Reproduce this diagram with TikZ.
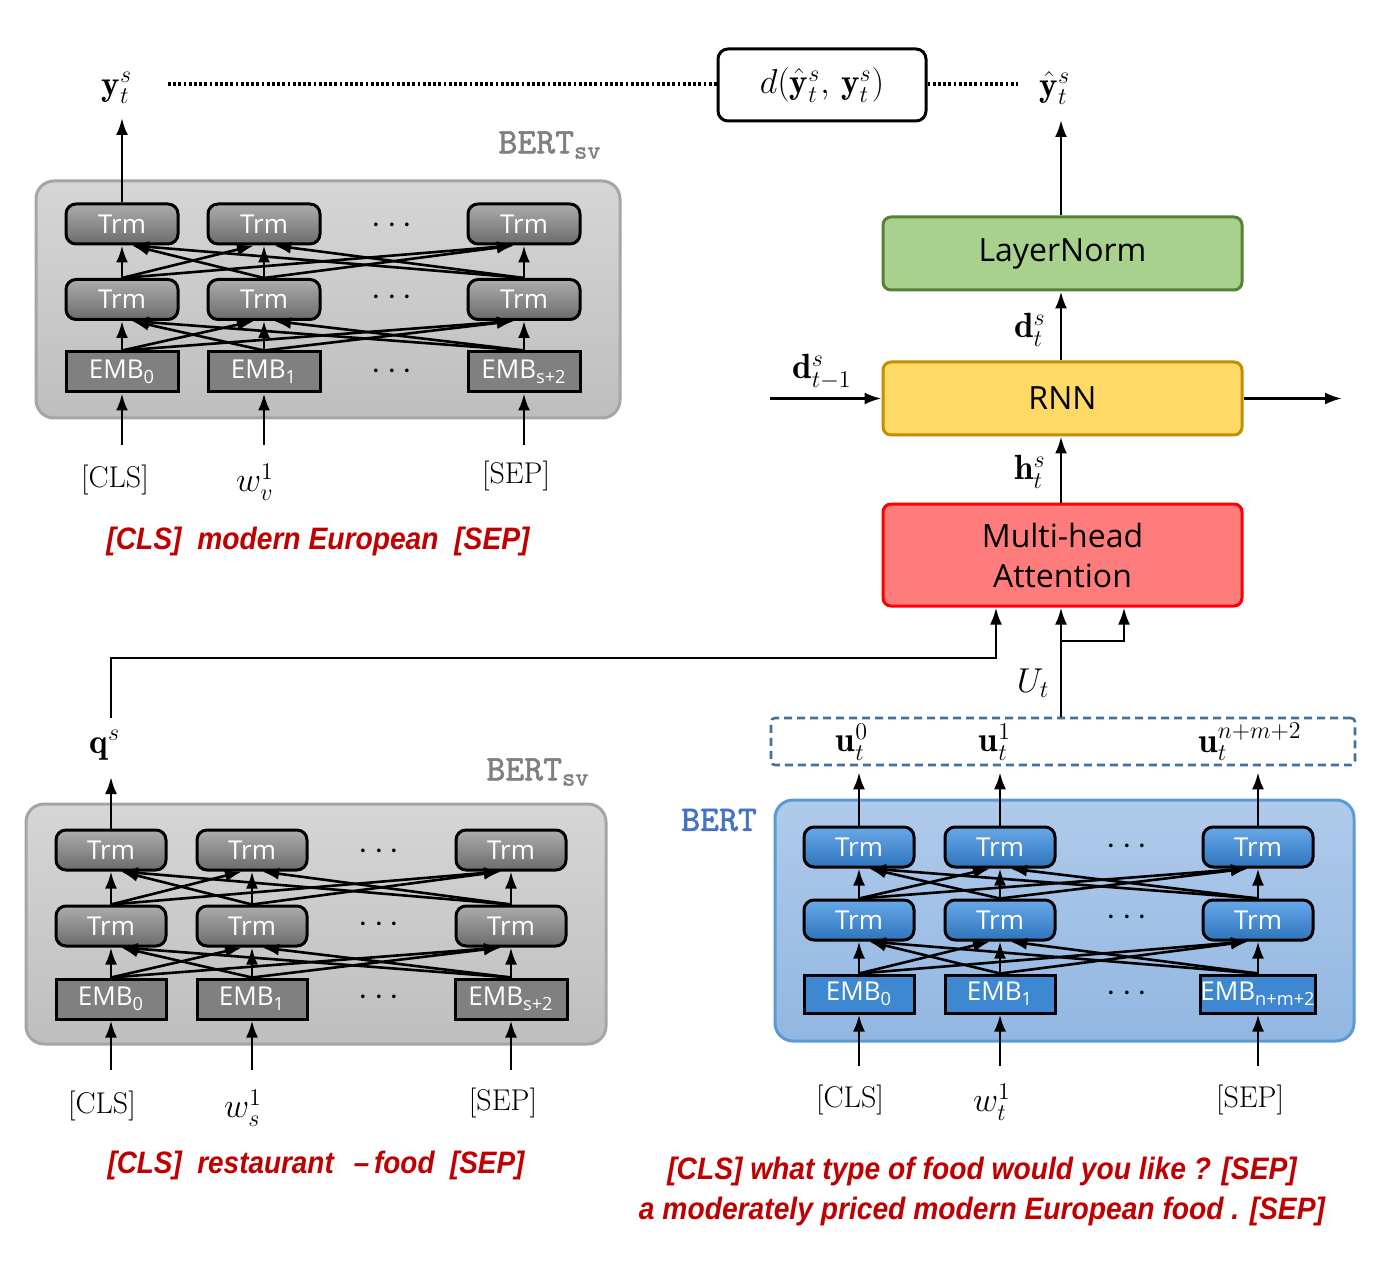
\documentclass[tikz,border=0pt]{standalone}
\usepackage{amsmath}
\usepackage{fontspec}
\usetikzlibrary{arrows.meta,calc}
\newfontfamily\uifont{Open Sans}
\newfontfamily\redfont{Liberation Sans}
\newfontfamily\bertfont[FakeBold=1.6]{lmmono10-regular.otf}
\definecolor{blkgtop}{RGB}{214,214,214}
\definecolor{blkgbot}{RGB}{190,190,190}
\definecolor{blkgbd}{RGB}{165,165,165}
\definecolor{trmgtop}{RGB}{172,172,172}
\definecolor{trmgbot}{RGB}{108,108,108}
\definecolor{embgfill}{RGB}{128,128,128}
\definecolor{blkbtop}{RGB}{176,202,234}
\definecolor{blkbbot}{RGB}{146,183,226}
\definecolor{blkbbd}{RGB}{91,155,213}
\definecolor{trmbtop}{RGB}{104,168,232}
\definecolor{trmbbot}{RGB}{46,117,190}
\definecolor{embbfill}{RGB}{62,136,210}
\definecolor{mhfill}{RGB}{255,124,124}
\definecolor{mhbd}{RGB}{255,0,0}
\definecolor{rnnfill}{RGB}{255,217,102}
\definecolor{rnnbd}{RGB}{191,144,0}
\definecolor{lnfill}{RGB}{169,209,142}
\definecolor{lnbd}{RGB}{84,130,53}
\definecolor{redtxt}{RGB}{192,0,0}
\definecolor{dashbd}{RGB}{65,113,156}
\definecolor{bertblue}{RGB}{68,114,196}
\definecolor{bertgray}{RGB}{128,128,128}
\tikzset{
  arr/.style={line width=1.3pt,-{Latex[length=8.5pt,width=6pt]}},
  blockg/.style={draw=blkgbd,line width=1.5pt,rounded corners=9pt,top color=blkgtop,bottom color=blkgbot},
  blockb/.style={draw=blkbbd,line width=1.5pt,rounded corners=9pt,top color=blkbtop,bottom color=blkbbot},
  boxbase/.style={draw=black,line width=1.5pt,minimum width=56pt,minimum height=20pt,inner sep=0pt,text=white,font=\uifont\fontsize{13}{14}\selectfont},
  trmg/.style={boxbase,rounded corners=5pt,top color=trmgtop,bottom color=trmgbot},
  embg/.style={boxbase,fill=embgfill},
  trmb/.style={boxbase,minimum width=55pt,rounded corners=5pt,top color=trmbtop,bottom color=trmbbot},
  embb/.style={boxbase,minimum width=55pt,minimum height=19pt,fill=embbfill},
  bigbox/.style={line width=1.5pt,rounded corners=4pt,minimum width=179.5pt,minimum height=36.5pt,inner sep=0pt,align=center,font=\uifont\fontsize{16}{20}\selectfont},
  dotsn/.style={font=\fontsize{17}{18}\selectfont,inner sep=0pt},
  mathl/.style={font=\fontsize{17.5}{19}\selectfont,inner sep=1pt},
  inl/.style={font=\fontsize{15}{16}\selectfont,inner sep=1pt},
  redt/.style={text=redtxt,font=\redfont\bfseries\itshape\fontsize{15.5}{20}\selectfont,inner sep=0pt},
  bertl/.style={font=\bertfont\fontsize{18}{19}\selectfont,inner sep=0pt},
  dotline/.style={line width=1.6pt,dash pattern=on 1.4pt off 1.2pt},
}
\newcommand\mylinks[1]{%
  \foreach \lo/\up in {e/t2,t2/t1}{%
    \foreach \i in {1,2,3}{%
      \foreach \j in {1,2,3}{%
        \ifnum\i=\j
          \draw[arr] (#1-\lo-\i.north) -- (#1-\up-\j.south);
        \else\ifnum\i<\j
          \draw[arr] (#1-\lo-\i.north) -- ([xshift=-5pt]#1-\up-\j.south);
        \else
          \draw[arr] (#1-\lo-\i.north) -- ([xshift=5pt]#1-\up-\j.south);
        \fi\fi
      }}}}
\begin{document}
\begin{tikzpicture}[x=0.5pt,y=-0.5pt]
\useasboundingbox[fill=white] (0,0) rectangle (1376,1278);

% ---------------- Block A (top left) ----------------
\draw[blockg] (36,181) rectangle (620,418);
\foreach \c/\x in {1/122,2/264,3/524}{
  \node[trmg] (A-t1-\c) at (\x,224) {Trm};
  \node[trmg] (A-t2-\c) at (\x,299.5) {Trm};
}
\node[embg] (A-e-1) at (122,372) {EMB\textsubscript{0}};
\node[embg] (A-e-2) at (264,372) {EMB\textsubscript{1}};
\node[embg] (A-e-3) at (524,372) {EMB\textsubscript{s+2}};
\node[dotsn] (A-d1) at (395,226) {$\cdots$};
\node[dotsn] (A-d2) at (395,298) {$\cdots$};
\node[dotsn] (A-d3) at (395,372) {$\cdots$};
\mylinks{A}
\node[bertl,text=bertgray] (A-lab) at (550,145) {BERT\textsubscript{sv}};
\node[inl] (A-in1) at (115,480) {[CLS]};
\node[mathl] (A-in2) at (255,482) {$w_v^1$};
\node[inl] (A-in3) at (516,476) {[SEP]};
\coordinate (A-s1) at (122,445);
\coordinate (A-s2) at (264,445);
\coordinate (A-s3) at (524,445);
\foreach \c in {1,2,3}{ \draw[arr] (A-s\c) -- (A-e-\c.south); }
\node[mathl] (ys) at (117,88) {$\mathbf{y}_t^s$};
\coordinate (ysend) at (122,118);
\draw[arr] (A-t1-1.north) -- (ysend);
\node[redt] (redA) at (318,541) {\scalebox{0.91}[1]{[CLS]\ \ modern European\ \ [SEP]}};

% ---------------- Block B (bottom left) ----------------
\draw[blockg] (26,804) rectangle (606,1044);
\foreach \c/\x in {1/111,2/252,3/511}{
  \node[trmg,minimum width=55pt] (B-t1-\c) at (\x,850) {Trm};
  \node[trmg,minimum width=55pt] (B-t2-\c) at (\x,926) {Trm};
}
\node[embg,minimum width=55pt] (B-e-1) at (111,999) {EMB\textsubscript{0}};
\node[embg,minimum width=55pt] (B-e-2) at (252,999) {EMB\textsubscript{1}};
\node[embg,minimum width=56pt] (B-e-3) at (511,999) {EMB\textsubscript{s+2}};
\node[dotsn] (B-d1) at (382,852) {$\cdots$};
\node[dotsn] (B-d2) at (382,925) {$\cdots$};
\node[dotsn] (B-d3) at (382,998) {$\cdots$};
\mylinks{B}
\node[bertl,text=bertgray] (B-lab) at (538,772) {BERT\textsubscript{sv}};
\node[inl] (B-in1) at (102,1106) {[CLS]};
\node[mathl] (B-in2) at (243,1108) {$w_s^1$};
\node[inl] (B-in3) at (503,1103) {[SEP]};
\coordinate (B-s1) at (111,1070);
\coordinate (B-s2) at (252,1070);
\coordinate (B-s3) at (511,1070);
\foreach \c in {1,2,3}{ \draw[arr] (B-s\c) -- (B-e-\c.south); }
\node[mathl] (qs) at (105,745) {$\mathbf{q}^s$};
\coordinate (qsend) at (111,777);
\draw[arr] (B-t1-1.north) -- (qsend);
\node[redt] (redB) at (316,1165) {\scalebox{0.9}[1]{[CLS]\ \ restaurant\ \ \,–\,food\ \ [SEP]}};

% ---------------- Block C (bottom right, BERT) ----------------
\draw[blockb] (775,800) rectangle (1354,1041);
\foreach \c/\x in {1/859,2/1000,3/1258}{
  \node[trmb] (C-t1-\c) at (\x,847) {Trm};
  \node[trmb] (C-t2-\c) at (\x,920) {Trm};
}
\node[embb] (C-e-1) at (859,994) {EMB\textsubscript{0}};
\node[embb] (C-e-2) at (1000,994) {EMB\textsubscript{1}};
\node[embb,minimum width=56.5pt] (C-e-3) at (1258,994) {EMB\textsubscript{n+m+2}};
\node[dotsn] (C-d1) at (1130,847) {$\cdots$};
\node[dotsn] (C-d2) at (1130,918) {$\cdots$};
\node[dotsn] (C-d3) at (1130,994) {$\cdots$};
\mylinks{C}
\node[bertl,text=bertblue] (C-lab) at (719,820) {BERT};
\node[inl] (C-in1) at (850,1100) {[CLS]};
\node[mathl] (C-in2) at (992,1102) {$w_t^1$};
\node[inl] (C-in3) at (1250,1100) {[SEP]};
\coordinate (C-s1) at (859,1066);
\coordinate (C-s2) at (1000,1066);
\coordinate (C-s3) at (1258,1066);
\foreach \c in {1,2,3}{ \draw[arr] (C-s\c) -- (C-e-\c.south); }
\node[draw=dashbd,line width=1.3pt,dash pattern=on 4pt off 2.5pt,rounded corners=2pt,minimum width=292pt,minimum height=23.5pt,inner sep=0pt] (UB) at (1063,741.5) {};
\node[mathl] (u0) at (852,742) {$\mathbf{u}_t^0$};
\node[mathl] (u1) at (995,742) {$\mathbf{u}_t^1$};
\node[mathl] (u2) at (1250,742) {$\mathbf{u}_t^{n+m+2}$};
\foreach \c in {1,2,3}{ \draw[arr] (C-t1-\c.north) -- ([yshift=-3pt]C-t1-\c.north |- UB.south); }
\node[redt] (redC1) at (982,1171) {\scalebox{0.91}[1]{[CLS] what type of food would you like ? [SEP]}};
\node[redt] (redC2) at (982,1211) {\scalebox{0.91}[1]{a moderately priced modern European food . [SEP]}};

% ---------------- Right column ----------------
\node[bigbox,draw=mhbd,fill=mhfill,minimum height=51pt] (MH) at (1062.5,555) {Multi-head\\Attention};
\node[bigbox,draw=rnnbd,fill=rnnfill] (RNN) at (1062.5,398.5) {RNN};
\node[bigbox,draw=lnbd,fill=lnfill] (LN) at (1062.5,253.5) {LayerNorm};
\node[draw=black,line width=1.5pt,rounded corners=5pt,minimum width=104pt,minimum height=36pt,inner sep=0pt,font=\fontsize{17.5}{19}\selectfont] (D) at (822,85) {$d(\hat{\mathbf{y}}_t^s,\, \mathbf{y}_t^s)$};
\node[mathl] (yh) at (1055,88) {$\hat{\mathbf{y}}_t^s$};
\coordinate (yhend) at (1061,120);
\draw[arr] (LN.north -| yhend) -- (yhend);
\draw[arr] (RNN.north -| yhend) -- (LN.south -| yhend);
\node[mathl] (dts) at (1030,330) {$\mathbf{d}_t^s$};
\draw[arr] (MH.north -| yhend) -- (RNN.south -| yhend);
\node[mathl] (hts) at (1030,472) {$\mathbf{h}_t^s$};
\coordinate (rin) at (770,398.5);
\coordinate (rout) at (1342,398.5);
\draw[arr] (rin) -- (RNN.west);
\draw[arr] (RNN.east) -- (rout);
\node[mathl] (dtm) at (822,372) {$\mathbf{d}_{t-1}^s$};
% dotted lines
\coordinate (dotA) at (168,84);
\coordinate (dotB) at (1018,84);
\draw[dotline] (dotA) -- (D.west |- dotA);
\draw[dotline] (D.east |- dotB) -- (dotB);
% U_t
\coordinate (br) at (1061,641);
\coordinate (br2) at (1124,641);
\draw[arr] (UB.north -| yhend) -- (MH.south -| yhend);
\draw[arr] (br) -- (br2) -- (MH.south -| br2);
\node[mathl] (Ut) at (1033,683) {$U_t$};
% q connector
\coordinate (qa) at (111,718);
\coordinate (qb) at (111,658);
\coordinate (qc) at (996,658);
\draw[arr] (qa) -- (qb) -- (qc) -- (MH.south -| qc);
\end{tikzpicture}
\end{document}
